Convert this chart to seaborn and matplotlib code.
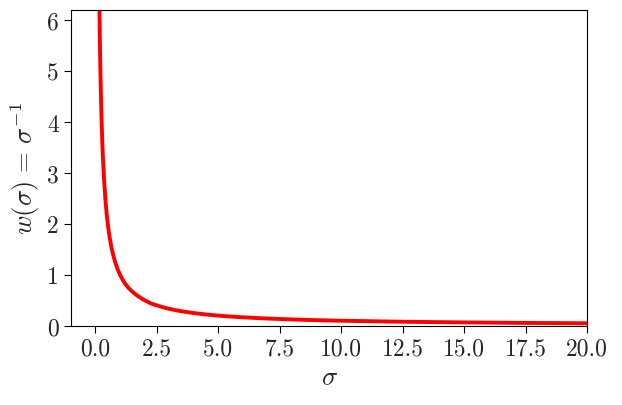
import matplotlib
matplotlib.use('Agg')
import pandas as pd
import seaborn as sns
import matplotlib.pyplot as plt

# --- Values ---
sigma = [0.16, 0.18, 0.2, 0.22, 0.25, 0.28, 0.3, 0.35, 0.4, 0.45, 0.5, 0.55, 0.6, 0.65,
         0.7, 0.8, 0.9, 1.0, 1.1, 1.2, 1.35, 1.5, 1.65, 1.8, 2.0, 2.25, 2.5, 2.75, 3.0,
         3.25, 3.5, 4.0, 4.5, 5.0, 5.5, 6.0, 7.0, 8.0, 9.0, 10.0, 12.5, 15.0, 17.5, 20.0]
w = [6.25, 5.56, 5.0, 4.55, 4.0, 3.57, 3.33, 2.86, 2.5, 2.22, 2.0, 1.82, 1.67, 1.54,
     1.43, 1.25, 1.11, 1.0, 0.91, 0.83, 0.74, 0.67, 0.61, 0.56, 0.5, 0.44, 0.4, 0.364, 0.333,
     0.308, 0.286, 0.25, 0.222, 0.2, 0.182, 0.167, 0.143, 0.125, 0.111, 0.1, 0.08, 0.067,
     0.057, 0.05]
x_ticks = [0.0, 2.5, 5.0, 7.5, 10.0, 12.5, 15.0, 17.5, 20.0]
y_ticks = [0, 1, 2, 3, 4, 5, 6]

df = pd.DataFrame({'sigma': sigma, 'w': w})

sns.set_style('ticks')
plt.rcParams['font.family'] = 'serif'
plt.rcParams['font.serif'] = ['cmr10']
plt.rcParams['mathtext.fontset'] = 'cm'
plt.rcParams['axes.formatter.use_mathtext'] = True
plt.rcParams['axes.edgecolor'] = 'black'

fig, ax = plt.subplots(figsize=(6.22, 4.06), dpi=100)
sns.lineplot(data=df, x='sigma', y='w', color='red', linewidth=2.8, ax=ax, sort=False)

ax.set_xlim(-1.0, 20.0)
ax.set_ylim(0, 6.2)
ax.set_xticks(x_ticks)
ax.set_xticklabels([f'{t:.1f}' for t in x_ticks])
ax.set_yticks(y_ticks)
ax.set_yticklabels([str(t) for t in y_ticks])
ax.tick_params(labelsize=17, color='black', length=5, width=0.8)
ax.set_xlabel(r'$\sigma$', fontsize=19)
ax.set_ylabel(r'$w(\sigma)\,=\,\sigma^{-1}$', fontsize=19)

plt.subplots_adjust(left=0.114, right=0.944, top=0.973, bottom=0.195)
plt.savefig('out.png', dpi=100)
